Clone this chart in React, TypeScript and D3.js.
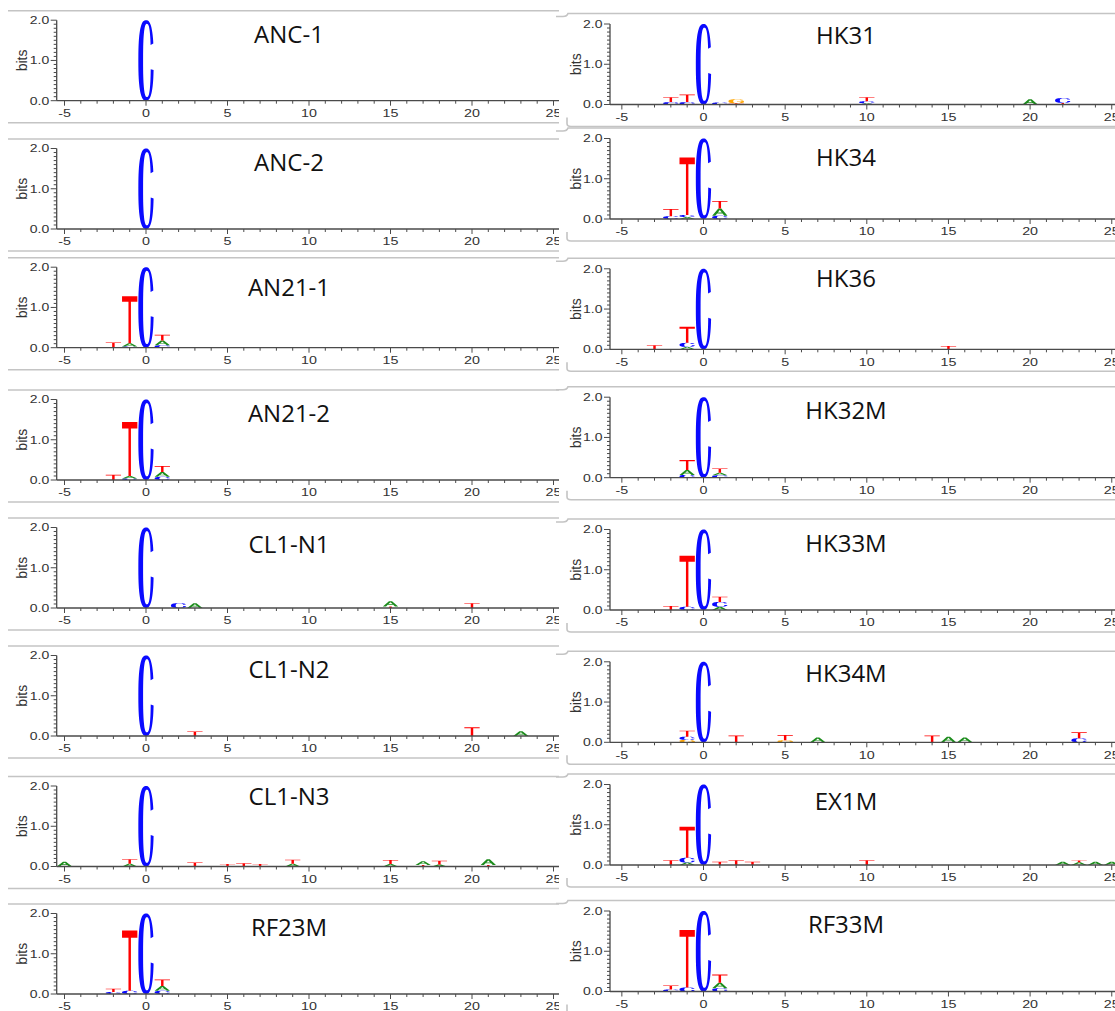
import React from "react";
import * as d3 from "d3";

// [position, nucleotide, bits]; letters at one position are listed bottom to top
type Entry = [number, string, number];

const LEFT_TITLES = ["ANC-1", "ANC-2", "AN21-1", "AN21-2", "CL1-N1", "CL1-N2", "CL1-N3", "RF23M"];
const RIGHT_TITLES = ["HK31", "HK34", "HK36", "HK32M", "HK33M", "HK34M", "EX1M", "RF33M"];

const ANC_1: Entry[] = [[0, "C", 2.0]];
const ANC_2: Entry[] = [[0, "C", 2.0]];
const AN21_1: Entry[] = [
  [-2, "T", 0.13],
  [-1, "C", 0.03], [-1, "A", 0.08], [-1, "T", 1.17],
  [0, "C", 2.0],
  [1, "C", 0.06], [1, "A", 0.12], [1, "T", 0.14],
];
const AN21_2: Entry[] = [
  [-2, "T", 0.13],
  [-1, "C", 0.04], [-1, "A", 0.06], [-1, "T", 1.34],
  [0, "C", 2.0],
  [1, "C", 0.08], [1, "A", 0.12], [1, "T", 0.15],
];
const CL1_N1: Entry[] = [
  [0, "C", 2.0],
  [2, "C", 0.12], [3, "A", 0.12],
  [15, "T", 0.04], [15, "A", 0.13],
  [20, "T", 0.12],
];
const CL1_N2: Entry[] = [
  [0, "C", 2.0],
  [3, "T", 0.11],
  [20, "T", 0.22],
  [23, "A", 0.12],
];
const CL1_N3: Entry[] = [
  [-5, "A", 0.12],
  [-1, "A", 0.07], [-1, "T", 0.11],
  [0, "C", 2.0],
  [3, "T", 0.1],
  [5, "T", 0.06], [6, "T", 0.08], [7, "T", 0.06],
  [9, "A", 0.07], [9, "T", 0.1],
  [15, "A", 0.06], [15, "T", 0.1],
  [17, "T", 0.04], [17, "A", 0.09],
  [18, "A", 0.05], [18, "T", 0.09],
  [21, "T", 0.04], [21, "A", 0.14],
];
const RF23M: Entry[] = [
  [-2, "C", 0.05], [-2, "T", 0.08],
  [-1, "C", 0.08], [-1, "T", 1.5],
  [0, "C", 2.0],
  [1, "C", 0.08], [1, "A", 0.12], [1, "T", 0.16],
];

const HK31: Entry[] = [
  [-2, "C", 0.06], [-2, "T", 0.12],
  [-1, "C", 0.06], [-1, "T", 0.19],
  [0, "C", 2.0],
  [1, "C", 0.05],
  [2, "T", 0.03], [2, "G", 0.1],
  [10, "A", 0.03], [10, "C", 0.05], [10, "T", 0.1],
  [20, "A", 0.13],
  [22, "T", 0.04], [22, "C", 0.12],
];
const HK34: Entry[] = [
  [-2, "C", 0.07], [-2, "T", 0.18],
  [-1, "A", 0.05], [-1, "C", 0.05], [-1, "T", 1.43],
  [0, "C", 2.0],
  [1, "C", 0.08], [1, "A", 0.18], [1, "T", 0.19],
];
const HK36: Entry[] = [
  [-3, "T", 0.1],
  [-1, "A", 0.06], [-1, "C", 0.1], [-1, "T", 0.4],
  [0, "C", 2.0],
  [15, "T", 0.08],
];
const HK32M: Entry[] = [
  [-1, "C", 0.07], [-1, "A", 0.12], [-1, "T", 0.25],
  [0, "C", 2.0],
  [1, "C", 0.06], [1, "A", 0.06], [1, "T", 0.11],
];
const HK33M: Entry[] = [
  [-2, "T", 0.1],
  [-1, "C", 0.08], [-1, "T", 1.27],
  [0, "C", 2.0],
  [1, "A", 0.08], [1, "C", 0.12], [1, "T", 0.13],
];
const HK34M: Entry[] = [
  [-1, "G", 0.06], [-1, "C", 0.08], [-1, "T", 0.15],
  [0, "C", 2.0],
  [2, "T", 0.17],
  [5, "G", 0.05], [5, "T", 0.13],
  [7, "A", 0.12],
  [14, "T", 0.17],
  [15, "A", 0.14],
  [16, "A", 0.12],
  [23, "C", 0.1], [23, "T", 0.15],
];
const EX1M: Entry[] = [
  [-2, "T", 0.12],
  [-1, "A", 0.06], [-1, "C", 0.12], [-1, "T", 0.77],
  [0, "C", 2.0],
  [1, "T", 0.08], [2, "T", 0.12], [3, "T", 0.08],
  [10, "T", 0.12],
  [22, "A", 0.08], [23, "A", 0.07], [23, "T", 0.04], [24, "A", 0.08], [25, "A", 0.08],
];
const RF33M: Entry[] = [
  [-2, "C", 0.05], [-2, "T", 0.1],
  [-1, "C", 0.1], [-1, "T", 1.43],
  [0, "C", 2.0],
  [1, "C", 0.08], [1, "A", 0.14], [1, "T", 0.2],
];

const LEFT_DATA = [ANC_1, ANC_2, AN21_1, AN21_2, CL1_N1, CL1_N2, CL1_N3, RF23M];
const RIGHT_DATA = [HK31, HK34, HK36, HK32M, HK33M, HK34M, EX1M, RF33M];

const X_TICK_LABELS = [-5, 0, 5, 10, 15, 20, 25];
const Y_TICK_LABELS = [0, 1, 2];
const Y_LABEL = "bits";

const LETTER_COLORS: Record<string, string> = {
  A: "#1c8c1c",
  C: "#0a0aff",
  G: "#ffa500",
  T: "#ff0000",
};

// ---- layout ----
const W = 1115;
const H = 1011;
const LOGO_HEIGHT = 80.5;

const LEFT_BASELINES = [100.7, 229, 347.7, 480, 608, 736, 866.5, 994];
const RIGHT_BASELINES = [104.5, 219, 349.3, 477.7, 610, 742.3, 865, 991.5];
const LEFT_TITLE_DY = [57.7, 58, 52, 58.3, 55.3, 58, 61.7, 58];
const RIGHT_TITLE_DY = [61, 53.3, 62, 58.4, 58.3, 60.6, 55, 59];

interface Column {
  x0: number;
  unit: number;
  axisX: number;
  titleX: number;
  right: number;
  frameLeft: number;
  notch: boolean;
}

const LEFT_COL: Column = { x0: 146, unit: 16.3, axisX: 56.7, titleX: 289, right: 559, frameLeft: 8, notch: false };
const RIGHT_COL: Column = { x0: 703.5, unit: 16.33, axisX: 610, titleX: 846, right: W, frameLeft: 567, notch: true };

// ---- letter outlines in a unit box (y grows downward) ----
function superPoint(cx: number, cy: number, rx: number, ry: number, t: number, n: number): [number, number] {
  const c = Math.cos(t);
  const s = Math.sin(t);
  const e = 2 / n;
  return [cx + rx * Math.sign(c) * Math.pow(Math.abs(c), e), cy + ry * Math.sign(s) * Math.pow(Math.abs(s), e)];
}

function ringPath(lowDeg: number, highDeg: number): string {
  const rad = Math.PI / 180;
  const t0 = lowDeg * rad;
  const t1 = (360 - highDeg) * rad;
  const N = 64;
  const pts: [number, number][] = [];
  for (let i = 0; i <= N; i++) pts.push(superPoint(0.5, 0.5, 0.5, 0.5, t0 + ((t1 - t0) * i) / N, 2.6));
  for (let i = N; i >= 0; i--) pts.push(superPoint(0.56, 0.5, 0.25, 0.455, t0 + ((t1 - t0) * i) / N, 2.6));
  return "M" + pts.map((p) => p[0].toFixed(4) + "," + p[1].toFixed(4)).join("L") + "Z";
}

const GLYPHS: Record<string, string[]> = {
  C: [ringPath(9, 19)],
  G: [ringPath(2, 19), "M0.55,0.5H1V0.6H0.55Z", "M0.86,0.5H1V0.78H0.86Z"],
  T: ["M0,0H1V0.12H0.58V1H0.42V0.12H0Z"],
  A: ["M0,1L0.4,0L0.6,0L1,1L0.79,1L0.68,0.7L0.32,0.7L0.21,1Z M0.37,0.56L0.63,0.56L0.5,0.2Z"],
};

const AXIS_FONT = "'Liberation Sans', Arial, sans-serif";

interface PanelProps {
  col: Column;
  baseline: number;
  title: string;
  titleDy: number;
  data: Entry[];
}

function Panel({ col, baseline, title, titleDy, data }: PanelProps) {
  const x = d3
    .scaleLinear()
    .domain([-5, 25])
    .range([col.x0 - 5 * col.unit, col.x0 + 25 * col.unit]);
  const y = d3.scaleLinear().domain([0, 2]).range([baseline, baseline - LOGO_HEIGHT]);

  // stack the letters of each position from the bottom up
  const glyphs: { key: string; pos: number; letter: string; lo: number; hi: number }[] = [];
  d3.group(data, (d) => d[0]).forEach((items, pos) => {
    let acc = 0;
    items.forEach(([, letter, bits], i) => {
      glyphs.push({ key: `${pos}-${i}`, pos, letter, lo: acc, hi: acc + bits });
      acc += bits;
    });
  });

  const axisColor = "#4a4a4a";
  const xMinor = d3.range(-5, 26);
  const yMinor = d3.range(0, 21).map((i) => i / 10);
  const top = col.notch ? baseline - 91 : baseline - 90;
  const bottom = baseline + 22;

  return (
    <g>
      {/* frame lines */}
      {col.notch ? (
        <>
          <path
            d={`M556,${top + 3}L563,${top + 3}Q567,${top + 3} 568,${top}L${col.right},${top}`}
            fill="none"
            stroke="#c4c4c4"
            strokeWidth={1.6}
          />
          <path
            d={`M567,${bottom - 9}L567,${bottom - 3}Q567,${bottom} 571,${bottom}L${col.right},${bottom}`}
            fill="none"
            stroke="#c4c4c4"
            strokeWidth={1.6}
          />
        </>
      ) : (
        <>
          <line x1={col.frameLeft} x2={col.right} y1={top} y2={top} stroke="#c4c4c4" strokeWidth={1.6} />
          <line x1={col.frameLeft} x2={col.right} y1={bottom} y2={bottom} stroke="#c4c4c4" strokeWidth={1.6} />
        </>
      )}

      {/* title */}
      <text
        x={col.titleX}
        y={baseline - titleDy}
        textAnchor="middle"
        fontFamily="'Open Sans', 'Noto Sans', sans-serif"
        fontSize={24}
        fill="#111"
      >
        {title}
      </text>

      {/* letters */}
      {glyphs.map((g) => {
        const x0 = x(g.pos - 0.47);
        const w = x(g.pos + 0.47) - x0;
        const yTop = y(g.hi);
        const h = y(g.lo) - y(g.hi);
        return (
          <g key={g.key} transform={`translate(${x0},${yTop}) scale(${w},${h})`}>
            {GLYPHS[g.letter].map((d, i) => (
              <path key={i} d={d} fill={LETTER_COLORS[g.letter]} fillRule="evenodd" />
            ))}
          </g>
        );
      })}

      {/* y axis */}
      <line x1={col.axisX} x2={col.axisX} y1={y(2)} y2={y(0)} stroke={axisColor} strokeWidth={1.3} />
      {yMinor.map((v) => (
        <line
          key={v}
          x1={col.axisX - (Number.isInteger(v) ? 6 : 3)}
          x2={col.axisX}
          y1={y(v)}
          y2={y(v)}
          stroke={axisColor}
          strokeWidth={1}
        />
      ))}
      {Y_TICK_LABELS.map((v) => (
        <text
          key={v}
          transform={`translate(${col.axisX - 7.5},${y(v) + 3.8}) scale(1.12,0.88)`}
          textAnchor="end"
          fontFamily={AXIS_FONT}
          fontSize={12.5}
          fill="#333"
        >
          {v.toFixed(1)}
        </text>
      ))}
      <text
        transform={`translate(${col.axisX - 29.5},${y(1)}) rotate(-90)`}
        textAnchor="middle"
        fontFamily={AXIS_FONT}
        fontSize={14}
        fill="#333"
      >
        {Y_LABEL}
      </text>

      {/* x axis */}
      <line x1={col.axisX} x2={col.right} y1={baseline} y2={baseline} stroke={axisColor} strokeWidth={1.3} />
      {xMinor.map((v) => (
        <line
          key={v}
          x1={x(v)}
          x2={x(v)}
          y1={baseline}
          y2={baseline + (v % 5 === 0 ? 5 : 3)}
          stroke={axisColor}
          strokeWidth={1}
        />
      ))}
      {X_TICK_LABELS.map((v) => (
        <text
          key={v}
          transform={`translate(${x(v)},${baseline + 16.2}) scale(1.1,0.86)`}
          textAnchor="middle"
          fontFamily={AXIS_FONT}
          fontSize={13}
          fill="#333"
        >
          {v}
        </text>
      ))}
    </g>
  );
}

export default function App() {
  return (
    <svg
      width={W}
      height={H}
      viewBox={`0 0 ${W} ${H}`}
      style={{ position: "absolute", left: 0, top: 0, display: "block", background: "#fff" }}
    >
      <defs>
        <clipPath id="left-column">
          <rect x={0} y={0} width={LEFT_COL.right} height={H} />
        </clipPath>
      </defs>
      <rect x={0} y={0} width={W} height={H} fill="#fff" />
      <g clipPath="url(#left-column)">
        {LEFT_TITLES.map((t, i) => (
          <Panel
            key={t}
            col={LEFT_COL}
            baseline={LEFT_BASELINES[i]}
            title={t}
            titleDy={LEFT_TITLE_DY[i]}
            data={LEFT_DATA[i]}
          />
        ))}
      </g>
      <g>
        {RIGHT_TITLES.map((t, i) => (
          <Panel
            key={t}
            col={RIGHT_COL}
            baseline={RIGHT_BASELINES[i]}
            title={t}
            titleDy={RIGHT_TITLE_DY[i]}
            data={RIGHT_DATA[i]}
          />
        ))}
      </g>
    </svg>
  );
}
